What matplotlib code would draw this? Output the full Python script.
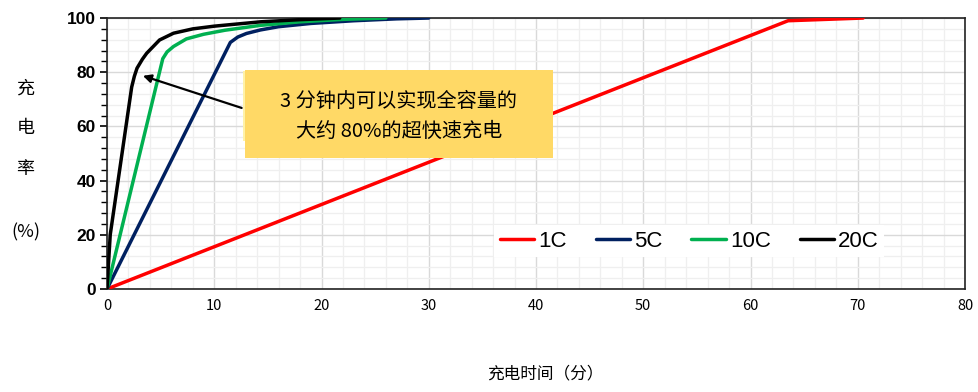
import matplotlib.pyplot as plt
from matplotlib.patches import Rectangle
from matplotlib.ticker import MultipleLocator

plt.rcParams["font.family"] = ["Noto Sans CJK SC", "DejaVu Sans"]

# charge curves: time (min) vs charge rate (%)
t_1c = [0, 63.5, 70.5]
r_1c = [0, 99, 100]
t_5c = [0, 11.5, 12.2, 13, 14.3, 16, 19, 23, 27, 30]
r_5c = [0, 91, 93, 94.3, 95.6, 96.8, 98, 99, 99.7, 100]
t_10c = [0, 5.2, 5.6, 6.2, 7.4, 9, 11, 14.3, 18, 22, 26]
r_10c = [0, 85, 87.5, 89.5, 92.3, 94, 95.5, 97.3, 98.6, 99.5, 100]
t_20c = [0, 0.3, 2.3, 2.55, 2.8, 3.3, 3.7, 4.9, 6.2, 8, 10, 14.3, 18, 21.7]
r_20c = [0, 20, 74.5, 78.5, 81.5, 84.8, 87, 91.9, 94.4, 96, 97, 98.6, 99.4, 100]

series = [
    ("1C", t_1c, r_1c, "#FF0000"),
    ("5C", t_5c, r_5c, "#002060"),
    ("10C", t_10c, r_10c, "#00B050"),
    ("20C", t_20c, r_20c, "#000000"),
]

fig = plt.figure(figsize=(9.79, 3.92), dpi=100)
ax = fig.add_axes([0.1093, 0.2628, 0.8764, 0.6912])

for label, t, r, color in series:
    ax.plot(t, r, color=color, lw=2.5, label=label, zorder=3,
            solid_joinstyle="round", solid_capstyle="round")

ax.set_xlim(0, 80)
ax.set_ylim(0, 100)
ax.xaxis.set_major_locator(MultipleLocator(10))
ax.xaxis.set_minor_locator(MultipleLocator(2))
ax.yaxis.set_major_locator(MultipleLocator(20))
ax.yaxis.set_minor_locator(MultipleLocator(4))
ax.grid(which="major", color="#d9d9d9", lw=1.0, zorder=0)
ax.grid(which="minor", color="#efefef", lw=0.9, zorder=0)
ax.set_axisbelow(True)

for s in ax.spines.values():
    s.set_color("#222222")
    s.set_linewidth(1.2)

ax.tick_params(axis="x", which="both", length=0, pad=7, labelsize=10.5)
ax.tick_params(axis="y", which="major", length=5, width=1.2, labelsize=12.5, pad=3)
ax.tick_params(axis="y", which="minor", length=4, width=1.0)
for lab in ax.get_yticklabels():
    lab.set_fontfamily("Liberation Sans")
    lab.set_fontweight("bold")

# vertical stacked y label
for ch, yy in [("充", 0.775), ("电", 0.673), ("率", 0.570), ("(%)", 0.408)]:
    fig.text(0.026, yy, ch, ha="center", va="center", fontsize=13)

fig.text(0.557, 0.045, "充电时间（分）", ha="center", va="center", fontsize=12)

# annotation box with arrow
ax.add_patch(Rectangle((12.7, 54.5), 1.0, 26.0, facecolor="#FFF2A8", edgecolor="none",
                       zorder=4))
ax.add_patch(Rectangle((12.86, 48.3), 28.74, 32.5, facecolor="#FFD966", edgecolor="none",
                       zorder=5))
ax.annotate("", xy=(3.1, 79), xytext=(12.8, 66.5),
            arrowprops=dict(arrowstyle="-|>", color="black", lw=1.6, mutation_scale=12),
            zorder=6)
ax.text(27.2, 63.8, "3 分钟内可以实现全容量的\n大约 80%的超快速充电", ha="center", va="center",
        fontsize=14.5, linespacing=1.55, zorder=6)

leg = ax.legend(loc="center", bbox_to_anchor=(54.3, 17.7), bbox_transform=ax.transData,
                ncol=4, frameon=True, fancybox=False, edgecolor="none", facecolor="white",
                framealpha=1, fontsize=16, handlelength=1.55, handletextpad=0.18,
                columnspacing=1.3, borderpad=0.25)
leg.set_zorder(5)
for lab in leg.get_texts():
    lab.set_fontfamily("Liberation Sans")

fig.savefig("out.png", dpi=100, facecolor="white")
